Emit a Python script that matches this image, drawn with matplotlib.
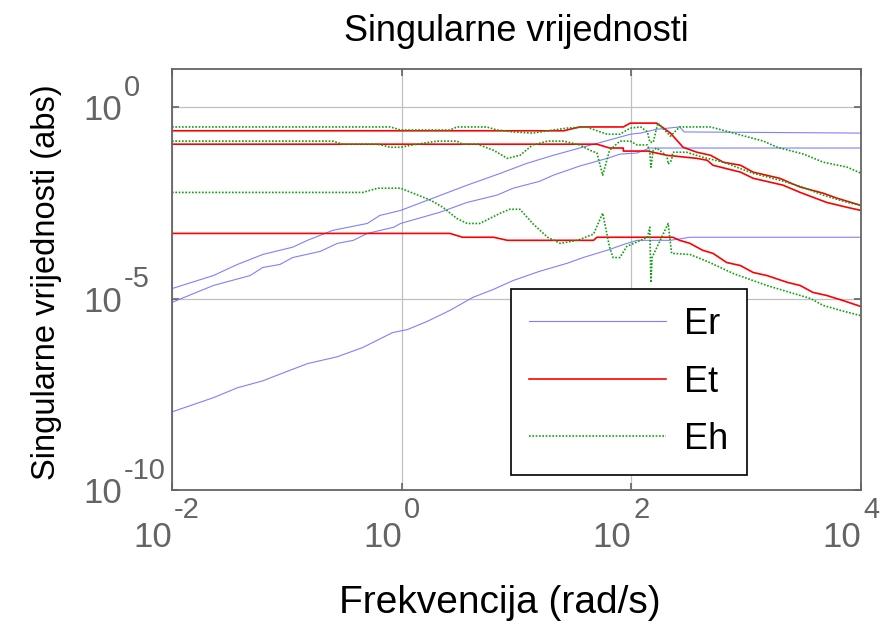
import numpy as np
import matplotlib
matplotlib.use("Agg")
import matplotlib.pyplot as plt
from matplotlib.ticker import FixedLocator, NullLocator

plt.rcParams['font.family'] = ['Liberation Sans', 'DejaVu Sans']

# podaci ocitani sa slike: log10 frekvencije i log10 singularnih vrijednosti
er1_lw = [-2.00, -1.64, -1.43, -1.21, -0.95, -0.82, -0.60, -0.30, -0.19, -0.01, 0.57, 0.86, 1.09,
          1.32, 1.55, 1.81, 1.99, 2.08, 2.22, 2.42, 2.46, 4.00]
er1_ls = [-4.74, -4.40, -4.11, -3.85, -3.66, -3.48, -3.22, -3.04, -2.83, -2.70, -2.04, -1.73, -1.47,
          -1.26, -1.07, -0.86, -0.71, -0.68, -0.58, -0.52, -0.65, -0.68]
er2_lw = [-2.00, -1.64, -1.32, -1.21, -1.06, -0.95, -0.71, -0.56, -0.42, -0.30, -0.07, -0.01, 0.33,
          0.57, 0.83, 0.97, 1.20, 1.32, 1.55, 1.79, 1.90, 2.05, 2.16, 4.00]
er2_ls = [-5.10, -4.66, -4.40, -4.19, -4.11, -3.93, -3.77, -3.56, -3.48, -3.30, -3.14, -3.04, -2.75,
          -2.49, -2.30, -2.12, -1.94, -1.78, -1.54, -1.34, -1.23, -1.20, -1.07, -1.07]
er3_lw = [-2.00, -1.64, -1.43, -1.21, -1.03, -0.82, -0.56, -0.34, -0.08, 0.05, 0.22, 0.42, 0.62,
          0.80, 0.97, 1.20, 1.44, 1.58, 1.81, 1.93, 2.05, 2.34, 2.51, 4.00]
er3_ls = [-7.96, -7.59, -7.33, -7.15, -6.94, -6.70, -6.52, -6.28, -5.89, -5.81, -5.60, -5.31, -4.97,
          -4.76, -4.53, -4.29, -4.08, -3.93, -3.72, -3.59, -3.48, -3.48, -3.40, -3.40]

et1_lw = [-2.00, 1.41, 1.55, 1.93, 1.99, 2.22, 2.34, 2.45, 2.57, 2.69, 2.80, 2.95, 3.06, 3.29,
          3.47, 3.67, 3.79, 4.00]
et1_ls = [-0.62, -0.62, -0.52, -0.52, -0.42, -0.42, -0.68, -1.05, -1.18, -1.26, -1.44, -1.52, -1.70,
          -1.86, -2.09, -2.25, -2.38, -2.57]
et2_lw = [-2.00, 1.70, 1.81, 1.93, 1.93, 2.14, 2.31, 2.57, 2.66, 2.71, 2.95, 3.06, 3.32, 3.47,
          3.70, 3.88, 4.00]
et2_ls = [-0.97, -0.97, -1.07, -1.07, -1.15, -1.15, -1.26, -1.34, -1.39, -1.52, -1.70, -1.86, -2.04,
          -2.23, -2.49, -2.62, -2.70]
et3_lw = [-2.00, 0.42, 0.53, 0.80, 0.92, 1.67, 1.70, 2.36, 2.42, 2.51, 2.62, 2.71, 2.83, 2.95,
          3.06, 3.18, 3.36, 3.47, 3.58, 3.70, 3.84, 3.97, 4.00]
et3_ls = [-3.30, -3.30, -3.40, -3.40, -3.48, -3.48, -3.40, -3.40, -3.48, -3.56, -3.74, -3.82, -4.06,
          -4.14, -4.32, -4.40, -4.58, -4.66, -4.84, -4.92, -5.05, -5.18, -5.21]

eh1_lw = [-2.00, -0.10, -0.01, 0.42, 0.48, 0.74, 0.83, 0.97, 1.14, 1.32, 1.44, 1.61, 1.73, 1.79,
          1.90, 1.99, 2.08, 2.14, 2.16, 2.19, 2.23, 2.34, 2.42, 2.69, 2.95, 3.15, 3.27, 3.50, 3.67,
          3.88, 4.00]
eh1_ls = [-0.52, -0.52, -0.60, -0.60, -0.52, -0.52, -0.60, -0.65, -0.68, -0.60, -0.55, -0.52, -0.65,
          -0.71, -0.71, -0.55, -0.52, -0.65, -0.92, -0.92, -0.42, -0.76, -0.52, -0.52, -0.73, -0.89,
          -1.05, -1.23, -1.44, -1.57, -1.73]
eh2_lw = [-2.00, -0.60, -0.51, -0.21, -0.10, -0.01, 0.13, 0.31, 0.48, 0.53, 0.66, 0.80, 0.92, 1.03,
          1.14, 1.27, 1.41, 1.55, 1.64, 1.70, 1.75, 1.81, 1.90, 1.99, 2.05, 2.14, 2.16, 2.17, 2.19,
          2.22, 2.31, 2.32, 2.35, 2.36, 2.48, 2.62, 2.80, 3.06, 3.29, 3.47, 3.67, 3.88, 4.00]
eh2_ls = [-0.89, -0.89, -0.97, -0.97, -1.05, -1.05, -0.97, -0.89, -0.89, -0.97, -0.97, -1.13, -1.34,
          -1.26, -0.99, -0.89, -0.89, -0.99, -1.13, -1.20, -1.78, -1.13, -0.89, -0.89, -0.99, -0.99,
          -1.18, -1.57, -1.13, -1.07, -1.28, -1.49, -1.39, -1.18, -1.18, -1.31, -1.44, -1.73, -1.91,
          -2.07, -2.30, -2.49, -2.57]
eh3_lw = [-2.00, -0.34, -0.21, -0.01, 0.10, 0.25, 0.36, 0.48, 0.57, 0.68, 0.86, 0.94, 1.03, 1.14,
          1.27, 1.38, 1.53, 1.67, 1.75, 1.81, 1.84, 1.90, 1.96, 2.08, 2.14, 2.16, 2.17, 2.18, 2.32,
          2.35, 2.51, 2.66, 2.89, 3.18, 3.38, 3.56, 3.67, 3.82, 4.00]
eh3_ls = [-2.23, -2.23, -2.12, -2.12, -2.25, -2.43, -2.62, -2.91, -3.04, -3.04, -2.77, -2.67, -2.67,
          -3.04, -3.40, -3.56, -3.48, -3.32, -2.77, -3.66, -3.93, -3.93, -3.64, -3.48, -3.40, -3.14,
          -4.58, -3.93, -3.04, -3.82, -3.85, -4.03, -4.35, -4.66, -4.84, -5.00, -5.18, -5.31, -5.45]

x_ticks = [1e-2, 1e0, 1e2, 1e4]
x_exp = ['-2', '0', '2', '4']
y_ticks = [1e-10, 1e-5, 1e0]
y_exp = ['-10', '-5', '0']

siva = '#646464'
plava = '#8080ff'
crvena = '#ff0000'
zelena = '#10a010'

fig = plt.figure(figsize=(8.88, 6.25), dpi=100)
ax = fig.add_axes([0.1937, 0.216, 0.776, 0.674])

def crtaj(lw, ls, boja, stil, debljina, label=None):
    ax.plot(10.0 ** np.array(lw), 10.0 ** np.array(ls), color=boja, linestyle=stil,
            linewidth=debljina, label=label)

crtaj(er1_lw, er1_ls, plava, '-', 0.8, 'Er')
crtaj(er2_lw, er2_ls, plava, '-', 0.8)
crtaj(er3_lw, er3_ls, plava, '-', 0.8)
crtaj(et1_lw, et1_ls, crvena, '-', 1.2, 'Et')
crtaj(et2_lw, et2_ls, crvena, '-', 1.2)
crtaj(et3_lw, et3_ls, crvena, '-', 1.2)
crtaj(eh1_lw, eh1_ls, zelena, (0, (1, 1)), 1.2, 'Eh')
crtaj(eh2_lw, eh2_ls, zelena, (0, (1, 1)), 1.2)
crtaj(eh3_lw, eh3_ls, zelena, (0, (1, 1)), 1.2)

ax.set_xscale('log')
ax.set_yscale('log')
ax.set_xlim(1e-2, 1e4)
ax.set_ylim(1e-10, 1e1)

ax.xaxis.set_major_locator(FixedLocator(x_ticks))
ax.yaxis.set_major_locator(FixedLocator(y_ticks))
ax.xaxis.set_minor_locator(NullLocator())
ax.yaxis.set_minor_locator(NullLocator())
ax.set_xticklabels([])
ax.set_yticklabels([])

# oznake u stilu matlaba: veliki "10" i podignuti eksponent
for t, e in zip(x_ticks, x_exp):
    ax.annotate('10', xy=(t, 0), xycoords=('data', 'axes fraction'), xytext=(0, -41),
                textcoords='offset points', ha='right', va='baseline', fontsize=25, color=siva)
    ax.annotate(e, xy=(t, 0), xycoords=('data', 'axes fraction'), xytext=(1.5, -20),
                textcoords='offset points', ha='left', va='baseline', fontsize=21, color=siva)
for t, e in zip(y_ticks, y_exp):
    ax.annotate('10', xy=(0, t), xycoords=('axes fraction', 'data'), xytext=(-36, -9.5),
                textcoords='offset points', ha='right', va='baseline', fontsize=25, color=siva)
    ax.annotate(e, xy=(0, t), xycoords=('axes fraction', 'data'), xytext=(-35, 8),
                textcoords='offset points', ha='left', va='baseline', fontsize=21, color=siva)

ax.grid(True, color='#c0c0c0', linewidth=0.9)
ax.tick_params(direction='in', length=5, width=1.2, top=True, right=True, colors=siva)
for sp in ax.spines.values():
    sp.set_color(siva)
    sp.set_linewidth(1.3)

ax.set_title('Singularne vrijednosti', fontsize=26, pad=20)
ax.set_xlabel('Frekvencija (rad/s)', fontsize=28)
ax.xaxis.set_label_coords(0.476, -0.225)
ax.set_ylabel('Singularne vrijednosti (abs)', fontsize=23.5)
ax.yaxis.set_label_coords(-0.16, 0.494)

leg = ax.legend(loc='upper left', bbox_to_anchor=(0.492, 0.477), borderaxespad=0,
                fontsize=26, handlelength=3.8, handletextpad=0.5, labelspacing=0.62,
                borderpad=0.5, fancybox=False, framealpha=1)
leg.get_frame().set_edgecolor('black')
leg.get_frame().set_linewidth(1.2)

plt.savefig('out.png', dpi=100)
